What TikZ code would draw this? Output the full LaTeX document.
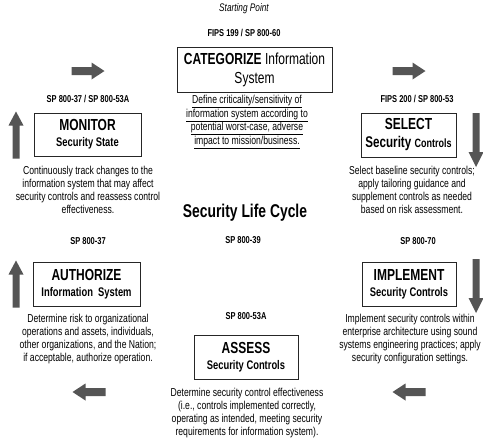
\documentclass[tikz,border=0pt]{standalone}
\usepackage{fontspec}
\setmainfont[FakeStretch=0.75]{Liberation Sans}
\definecolor{arrgray}{RGB}{85,85,85}
\begin{document}
\begin{tikzpicture}[x=1pt,y=-1pt,
  box/.style={draw=black!85, line width=0.8pt, inner sep=0pt, align=center, font=\fontsize{12.5}{12}\selectfont},
  lab/.style={font=\bfseries\fontsize{10}{12}\selectfont, inner sep=0pt},
  desc/.style={align=center, inner sep=0pt, font=\fontsize{11.5}{13}\selectfont},
  ttl/.style={},
  harrow/.pic={\fill[arrgray] (-16.5,-4) -- (3.5,-4) -- (3.5,-8.5) -- (16.5,0) -- (3.5,8.5) -- (3.5,4) -- (-16.5,4) -- cycle;},
  varrowlong/.pic={\fill[arrgray] (-3.5,-27) -- (3.5,-27) -- (3.5,12) -- (7.5,12) -- (0,27) -- (-7.5,12) -- (-3.5,12) -- cycle;},
  varrowshort/.pic={\fill[arrgray] (-3.5,-23.5) -- (3.5,-23.5) -- (3.5,9.5) -- (7.5,9.5) -- (0,23.5) -- (-7.5,9.5) -- (-3.5,9.5) -- cycle;}
]
\useasboundingbox[fill=white] (0,0) rectangle (483,442);

% top
\node[inner sep=0pt, font=\itshape\fontsize{11}{13}\selectfont] (start) at (244,9) {Starting Point};
\node[lab] (lcat) at (244,33) {FIPS 199 / SP 800-60};
\node[box, minimum width=155, minimum height=45, font=\fontsize{16}{18}\selectfont] (cat) at (254.5,69.5)
  {{\bfseries CATEGORIZE} Information\\[1pt]System};
\node[desc, font=\fontsize{11.5}{11}\selectfont] (dcat) at (247,122)
  {\underline{Define criticality/sensitivity of}\\\underline{information system according to}\\\underline{potential worst-case, adverse}\\\underline{impact to mission/business.}};

% center
\node[inner sep=0pt, font=\bfseries\fontsize{18.5}{21}\selectfont] (slc) at (245,213) {Security Life Cycle};
\node[lab] (l39) at (243,240) {SP 800-39};

% left column
\node[lab] (lmon) at (88,99) {SP 800-37 / SP 800-53A};
\node[box, minimum width=107, minimum height=43] (mon) at (87.5,134.5)
  {{\bfseries\fontsize{16}{17}\selectfont MONITOR}\\[4pt]{\bfseries Security State}};
\node[desc] (dmon) at (88,190)
  {Continuously track changes to the\\information system that may affect\\security controls and reassess control\\effectiveness.};
\node[lab] (laut) at (88,241) {SP 800-37};
\node[box, minimum width=107, minimum height=44] (aut) at (86.5,284)
  {{\bfseries\fontsize{16}{17}\selectfont AUTHORIZE}\\[4pt]{\bfseries Information\ \ System}};
\node[desc] (daut) at (88,339)
  {Determine risk to organizational\\operations and assets, individuals,\\other organizations, and the Nation;\\if acceptable, authorize operation.};

% right column
\node[lab] (lsel) at (417,99) {FIPS 200 / SP 800-53};
\node[box, minimum width=95, minimum height=44] (sel) at (408.5,135)
  {{\bfseries\fontsize{16}{17}\selectfont SELECT}\\[6pt]{\bfseries\fontsize{15.5}{14}\selectfont Security {\fontsize{12}{14}\selectfont Controls}}};
\node[desc] (dsel) at (412,190)
  {Select baseline security controls;\\apply tailoring\ guidance and\\supplement controls as needed\\based on risk assessment.};
\node[lab] (limp) at (418,241) {SP 800-70};
\node[box, minimum width=94, minimum height=44] (imp) at (409,284)
  {{\bfseries\fontsize{16}{17}\selectfont IMPLEMENT}\\[4pt]{\bfseries Security Controls}};
\node[desc] (dimp) at (410,339)
  {Implement security controls within\\enterprise architecture using sound\\systems engineering practices; apply\\security configuration\ settings.};

% bottom
\node[lab] (lass) at (246,316) {SP 800-53A};
\node[box, minimum width=104, minimum height=44] (ass) at (246,357)
  {{\bfseries\fontsize{16}{17}\selectfont ASSESS}\\[4pt]{\bfseries Security Controls}};
\node[desc] (dass) at (247,413)
  {Determine security control effectiveness\\(i.e., controls implemented correctly,\\operating as intended, meeting security\\requirements for information system).};

% arrows
\pic at (88,71) {harrow};
\pic at (409,71) {harrow};
\pic[xscale=-1] at (89,392) {harrow};
\pic[xscale=-1] at (409,392) {harrow};
\pic at (476,140) {varrowlong};
\pic at (476,286) {varrowlong};
\pic[yscale=-1] at (16,135) {varrowshort};
\pic[yscale=-1] at (16,284) {varrowshort};
\end{tikzpicture}
\end{document}
